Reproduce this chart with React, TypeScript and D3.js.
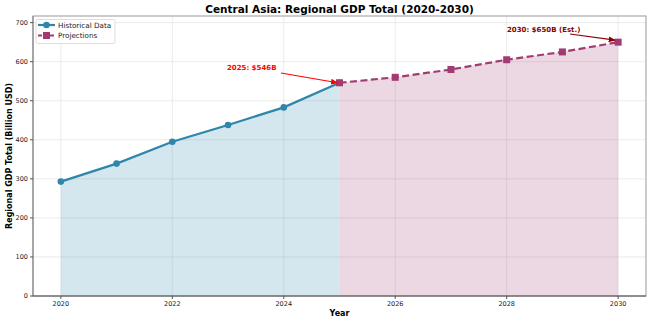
import React from "react";
import * as d3 from "d3";

const histYears = [2020, 2021, 2022, 2023, 2024, 2025];
const histValues = [293, 339, 395, 438, 483, 546];
const projYears = [2025, 2026, 2027, 2028, 2029, 2030];
const projValues = [546, 560, 580, 605, 625, 650];
const xTicks = [2020, 2022, 2024, 2026, 2028, 2030];
const yTicks = [0, 100, 200, 300, 400, 500, 600, 700];

const W = 650, H = 323;
const L = 33, R = 646, T = 16, B = 296;
const BLUE = "#2E86AB", PINK = "#A23B72";
const FONT = "DejaVu Sans, sans-serif";

export default function App() {
  const x = d3.scaleLinear().domain([2019.5, 2030.5]).range([L, R]);
  const y = d3.scaleLinear().domain([0, 717]).range([B, T]);
  const hist = histYears.map((yr, i) => [yr, histValues[i]] as [number, number]);
  const proj = projYears.map((yr, i) => [yr, projValues[i]] as [number, number]);
  const line = d3.line<[number, number]>().x(d => x(d[0])).y(d => y(d[1]));
  const area = d3.area<[number, number]>().x(d => x(d[0])).y0(y(0)).y1(d => y(d[1]));
  return (
    <svg width={W} height={H} style={{ position: "absolute", left: 0, top: 0 }} fontFamily={FONT}>
      <defs>
        <marker id="arrR" viewBox="0 0 10 10" refX="9" refY="5" markerWidth="6" markerHeight="6" orient="auto">
          <path d="M0,1 L10,5 L0,9 z" fill="red" />
        </marker>
        <marker id="arrD" viewBox="0 0 10 10" refX="9" refY="5" markerWidth="6" markerHeight="6" orient="auto">
          <path d="M0,1 L10,5 L0,9 z" fill="#8B0000" />
        </marker>
      </defs>
      <rect x={0} y={0} width={W} height={H} fill="white" />
      {/* grid */}
      {xTicks.map(t => (
        <line key={"gx" + t} x1={x(t)} x2={x(t)} y1={T} y2={B} stroke="#e6e6e6" strokeWidth={0.8} />
      ))}
      {yTicks.map(t => (
        <line key={"gy" + t} x1={L} x2={R} y1={y(t)} y2={y(t)} stroke="#e6e6e6" strokeWidth={0.8} />
      ))}
      {/* areas */}
      <path d={area(hist) || ""} fill={BLUE} fillOpacity={0.2} />
      <path d={area(proj) || ""} fill={PINK} fillOpacity={0.2} />
      {/* lines */}
      <path d={line(hist) || ""} fill="none" stroke={BLUE} strokeWidth={2.2} />
      <path d={line(proj) || ""} fill="none" stroke={PINK} strokeWidth={2.2} strokeDasharray="7,3.5" />
      {hist.map(d => (
        <circle key={"c" + d[0]} cx={x(d[0])} cy={y(d[1])} r={3.3} fill={BLUE} />
      ))}
      {proj.map(d => (
        <rect key={"s" + d[0]} x={x(d[0]) - 3.5} y={y(d[1]) - 3.5} width={7} height={7} fill={PINK} />
      ))}
      {/* spines */}
      <rect x={L} y={T} width={R - L} height={B - T} fill="none" stroke="#999" strokeWidth={1} />
      <line x1={L} x2={L} y1={T} y2={B} stroke="#999" strokeWidth={1.5} />
      <line x1={L} x2={R} y1={B} y2={B} stroke="#555" strokeWidth={1} />
      {/* ticks */}
      {xTicks.map(t => (
        <g key={"tx" + t}>
          <line x1={x(t)} x2={x(t)} y1={B} y2={B + 3} stroke="#555" />
          <text x={x(t)} y={B + 10} fontSize={6.5} textAnchor="middle" fill="#222">{t}</text>
        </g>
      ))}
      {yTicks.map(t => (
        <g key={"ty" + t}>
          <line x1={L - 3} x2={L} y1={y(t)} y2={y(t)} stroke="#555" />
          <text x={L - 5} y={y(t) + 2.4} fontSize={6.5} textAnchor="end" fill="#222">{t}</text>
        </g>
      ))}
      {/* labels */}
      <text x={(L + R) / 2} y={13} fontSize={10.5} fontWeight="bold" textAnchor="middle" fill="#000">Central Asia: Regional GDP Total (2020-2030)</text>
      <text x={(L + R) / 2} y={316} fontSize={8} fontWeight="bold" textAnchor="middle" fill="#000">Year</text>
      <text transform={`translate(12,${(T + B) / 2}) rotate(-90)`} fontSize={8} fontWeight="bold" textAnchor="middle" fill="#000">Regional GDP Total (Billion USD)</text>
      {/* annotations */}
      <line x1={281} y1={73} x2={x(2025) - 2} y2={y(546)} stroke="red" strokeWidth={1.2} markerEnd="url(#arrR)" />
      <text x={227} y={70} fontSize={7} fontWeight="bold" fill="red">2025: $546B</text>
      <line x1={570} y1={34} x2={x(2030) - 3} y2={y(650) - 2} stroke="#8B0000" strokeWidth={1.2} markerEnd="url(#arrD)" />
      <text x={507} y={31.5} fontSize={7} fontWeight="bold" fill="#8B0000">2030: $650B (Est.)</text>
      {/* legend */}
      <rect x={36} y={19.5} width={79} height={24} fill="white" fillOpacity={0.85} stroke="#ddd" rx={2} />
      <line x1={38} x2={55} y1={25} y2={25} stroke={BLUE} strokeWidth={2.2} />
      <circle cx={46.5} cy={25} r={3.3} fill={BLUE} />
      <text x={58} y={27.5} fontSize={7.2} fill="#222">Historical Data</text>
      <line x1={38} x2={55} y1={35.5} y2={35.5} stroke={PINK} strokeWidth={2.2} strokeDasharray="4,2" />
      <rect x={43} y={32} width={7} height={7} fill={PINK} />
      <text x={58} y={38} fontSize={7.2} fill="#222">Projections</text>
    </svg>
  );
}
